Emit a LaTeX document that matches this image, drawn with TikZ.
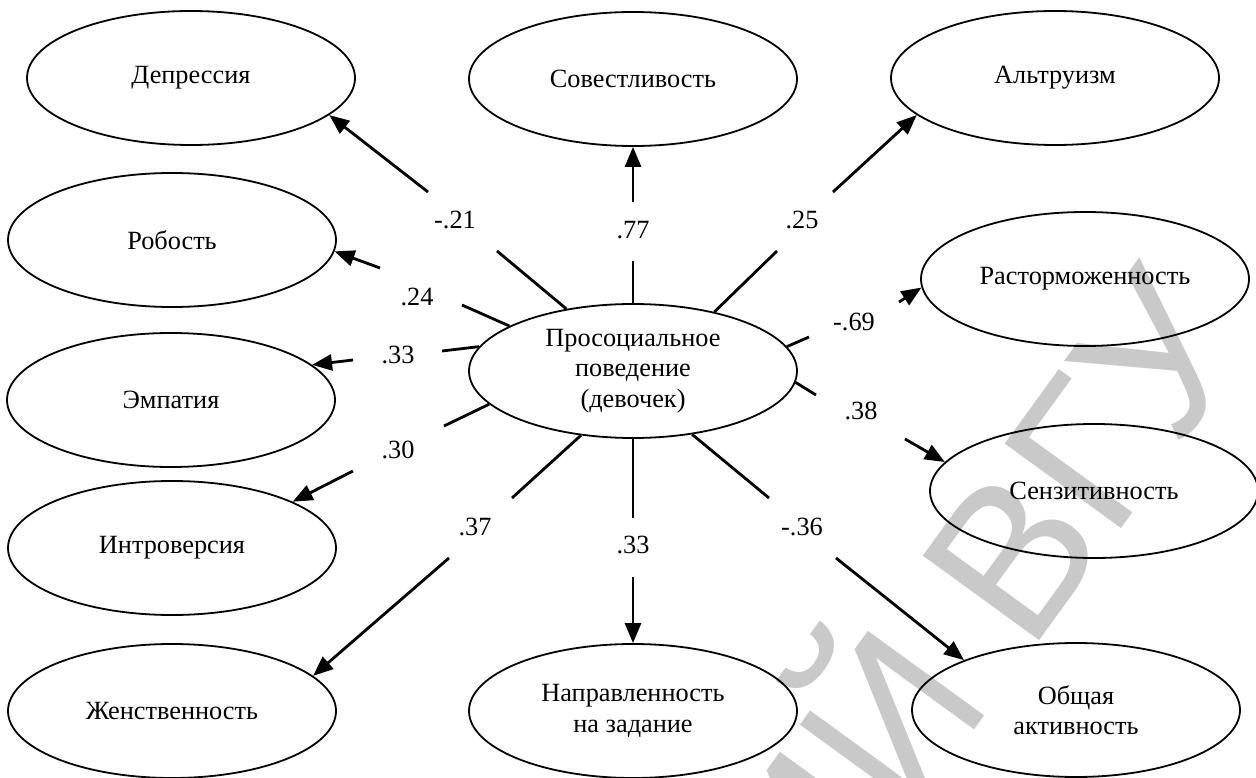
\documentclass[tikz,border=0pt]{standalone}
\usepackage{fontspec}
\setmainfont{Liberation Serif}
\newfontfamily\wmfont{Liberation Sans}
\usetikzlibrary{shapes.geometric,arrows.meta}

\begin{document}
\begin{tikzpicture}[x=1pt,y=-1pt,
  trait/.style={ellipse,draw,line width=1.8pt,minimum width=328pt,minimum height=134pt,
                inner sep=0pt,align=center,font=\fontsize{26.3}{30.5}\selectfont},
  coef/.style={inner sep=0pt,font=\fontsize{26.3}{30.5}\selectfont},
  link/.style={line width=2.8pt},
  arr/.style={link,-{Triangle[length=20pt,width=16pt]}},
  stamp/.style={rotate=54,anchor=base east,inner sep=0pt,text=black!21,
                font=\wmfont\fontsize{209}{209}\selectfont}]

% canvas
\fill[white] (0,0) rectangle (1256,778);
\useasboundingbox (0,0) rectangle (1256,778);

% repository stamp behind the diagram
\node[stamp] (wm) at (1256,343) {ИЙ ВГУ};

% central factor
\node[trait] (P) at (633,371) {Просоциальное\\поведение\\(девочек)};

% traits
\node[trait] (D)   at (191,78)   {Депрессия};
\node[trait] (S)   at (633,79)   {Совестливость};
\node[trait] (A)   at (1055,78)  {Альтруизм};
\node[trait] (R)   at (172,240)  {Робость};
\node[trait] (Ras) at (1085,279) {Расторможенность};
\node[trait] (E)   at (171,400)  {Эмпатия};
\node[trait] (Sen) at (1094,491) {Сензитивность};
\node[trait] (I)   at (172,548)  {Интроверсия};
\node[trait] (Zh)  at (172,711)  {Женственность};
\node[trait] (N)   at (633,711)  {Направленность\\на задание};
\node[trait] (O)   at (1076,710) {Общая\\активность};

% each path is broken where its coefficient is printed
\coordinate (s1) at (497,251);  \coordinate (e1) at (428,192);
\coordinate (s2) at (633,261);  \coordinate (e2) at (633,202);
\coordinate (s3) at (777,251);  \coordinate (e3) at (833,192);
\coordinate (s4) at (462,305);  \coordinate (e4) at (380,268);
\coordinate (s5) at (442,351);  \coordinate (e5) at (353,360);
\coordinate (s6) at (444,426);  \coordinate (e6) at (353,471);
\coordinate (s7) at (512,498);  \coordinate (e7) at (449,558);
\coordinate (s8) at (633,518);  \coordinate (e8) at (633,577);
\coordinate (s9) at (769,498);  \coordinate (e9) at (836,558);
\coordinate (s10) at (816,395); \coordinate (e10) at (905,439);
\coordinate (s11) at (809,337); \coordinate (e11) at (899,302);

\draw[link] (P.137) -- (s1);  \draw[arr] (e1) -- (D.-15);
\draw[link] (P.90)  -- (s2);  \draw[arr] (e2) -- (S.-90);
\draw[link] (P.36)  -- (s3);  \draw[arr] (e3) -- (A.195);
\draw[link] (P.160) -- (s4);  \draw[arr] (e4) -- (R.-4);
\draw[link] (P.171) -- (s5);  \draw[arr] (e5) -- (E.14);
\draw[link] (P.-167) -- (s6); \draw[arr] (e6) -- (I.21);
\draw[link] (P.-129) -- (s7); \draw[arr] (e7) -- (Zh.14);
\draw[link] (P.-90) -- (s8);  \draw[arr] (e8) -- (N.90);
\draw[link] (P.-47) -- (s9);  \draw[arr] (e9) -- (O.156);
\draw[link] (P.-4)  -- (s10); \draw[arr] (e10) -- (Sen.169);
\draw[link] (P.9)   -- (s11); \draw[arr] (e11) -- (Ras.-177);

% path coefficients
\node[coef] (c1)  at (455,220) {-.21};
\node[coef] (c2)  at (633,230) {.77};
\node[coef] (c3)  at (802,220) {.25};
\node[coef] (c4)  at (417,297) {.24};
\node[coef] (c5)  at (398,355) {.33};
\node[coef] (c6)  at (398,450) {.30};
\node[coef] (c7)  at (475,527) {.37};
\node[coef] (c8)  at (633,545) {.33};
\node[coef] (c9)  at (802,527) {-.36};
\node[coef] (c10) at (861,411) {.38};
\node[coef] (c11) at (854,322) {-.69};
\end{tikzpicture}
\end{document}
